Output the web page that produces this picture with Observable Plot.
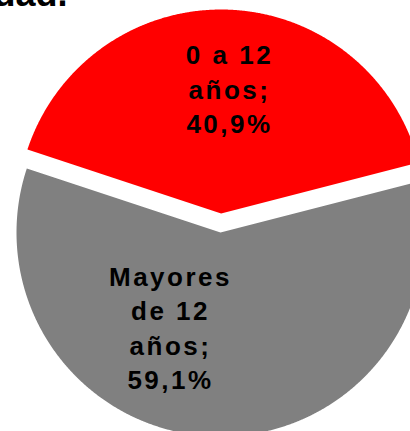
<!DOCTYPE html>
<html><head><meta charset="utf-8">
<script src="https://cdn.jsdelivr.net/npm/d3@7"></script>
<script src="https://cdn.jsdelivr.net/npm/@observablehq/plot@0.6"></script>
<style>
html,body{margin:0;padding:0;background:#fff;}
#chart svg{display:block;}
</style></head><body><div id="chart"></div>
<script>
// ---- data ----
const categories = ["0 a 12 años", "Mayores de 12 años"];
const shares = [40.9, 59.1];
const labels = ["0 a 12\naños;\n40,9%", "Mayores\nde 12\naños;\n59,1%"];
const colors = ["#ff0000", "#808080"];
const title = "Distribución por edad.";

// ---- layout ----
const W = 410, H = 431;
const R = 204;                 // pie radius (px)
const cx = 220, cy = 232;      // pie centre (px)
const startDeg = -71.7;        // first slice start, clockwise from 12 o'clock
const explodePx = [19, 0];     // slice offsets
const labelPos = [[9, -145], [-50, 94]]; // label centres relative to pie centre (px)

const a0 = startDeg * Math.PI / 180;
const pie = d3.pie().sort(null).startAngle(a0).endAngle(a0 + 2 * Math.PI);
const arcs = pie(shares);

// slice outlines as polygons in px relative to centre (y down)
const pts = [];
arcs.forEach((a, i) => {
  const mid = (a.startAngle + a.endAngle) / 2;
  const ox = Math.sin(mid) * explodePx[i], oy = -Math.cos(mid) * explodePx[i];
  const cat = categories[i];
  pts.push({category: cat, x: ox, y: oy});
  const n = Math.ceil((a.endAngle - a.startAngle) / (Math.PI / 720));
  for (let k = 0; k <= n; k++) {
    const t = a.startAngle + (a.endAngle - a.startAngle) * k / n;
    pts.push({category: cat, x: ox + Math.sin(t) * R, y: oy - Math.cos(t) * R});
  }
  pts.push({category: cat, x: ox, y: oy});
});

const labelData = categories.map((c, i) => ({category: c, text: labels[i], x: labelPos[i][0], y: labelPos[i][1]}));

const svg = Plot.plot({
  width: W, height: H,
  margin: 0,
  x: {domain: [-cx, W - cx], range: [0, W], axis: null},
  y: {domain: [-cy, H - cy], range: [0, H], axis: null},
  color: {domain: categories, range: colors},
  style: {background: "#fff", fontFamily: "'Liberation Sans', Arial, sans-serif"},
  marks: [
    Plot.line(pts, {x: "x", y: "y", z: "category", fill: "category", stroke: "none", curve: "linear"}),
    Plot.text(labelData, {x: "x", y: "y", text: "text", fill: "#000", fontSize: 26, fontWeight: "bold",
      lineHeight: 1.33, textAnchor: "middle", lineAnchor: "middle"}),
    Plot.text([title], {x: () => 67 - cx, y: () => 5 - cy, text: d => d, fill: "#000", fontSize: 36,
      fontWeight: "bold", textAnchor: "end", lineAnchor: "bottom"})
  ]
});
const groups = svg.querySelectorAll('g[aria-label="text"]');
if (groups[0]) groups[0].style.letterSpacing = "2.5px";
document.getElementById("chart").appendChild(svg);
</script></body></html>
